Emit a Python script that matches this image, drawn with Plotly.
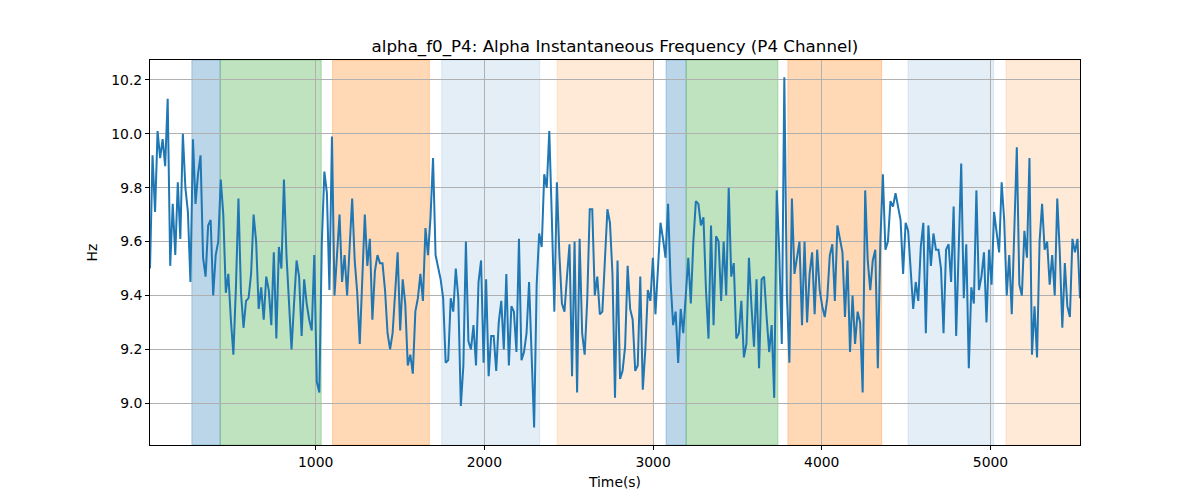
import numpy as np
import plotly.graph_objects as go

# Sampling of the time axis (seconds)
t_start = 18.0
t_step = 14.98

# Alpha instantaneous frequency values (Hz), read left to right
seg1 = [9.50, 9.92, 9.71, 10.01, 9.91, 9.98, 9.88, 10.13, 9.51, 9.74, 9.55, 9.82, 9.61, 10.00, 9.80, 9.71,
        9.45, 9.98, 9.74, 9.85, 9.92, 9.54, 9.47, 9.66, 9.68, 9.40, 9.55, 9.60, 9.83, 9.70, 9.41, 9.48,
        9.31, 9.18, 9.43, 9.76, 9.41, 9.28, 9.38, 9.39, 9.48, 9.70, 9.60, 9.35, 9.43, 9.31]
seg2 = [9.47, 9.42, 9.29, 9.56, 9.24, 9.58, 9.50, 9.83, 9.55, 9.37, 9.20, 9.37, 9.53, 9.47, 9.25, 9.46,
        9.37, 9.31, 9.27, 9.55, 9.08, 9.04, 9.60, 9.86, 9.78, 9.42, 9.99, 9.40, 9.57, 9.70, 9.45, 9.55,
        9.40, 9.58, 9.76, 9.53, 9.41, 9.22, 9.45, 9.70, 9.51, 9.61, 9.31, 9.49, 9.55]
seg3 = [9.52, 9.52, 9.42, 9.26, 9.20, 9.26, 9.43, 9.56, 9.27, 9.46, 9.37, 9.14, 9.18, 9.11, 9.34, 9.39,
        9.48, 9.38, 9.65, 9.55, 9.69, 9.91, 9.55, 9.50, 9.46, 9.39, 9.15, 9.16, 9.39, 9.34, 9.50, 9.39,
        8.99, 9.14, 9.60, 9.23, 9.20, 9.29, 9.14, 9.45, 9.53, 9.15, 9.46, 9.10, 9.25, 9.25]
seg4 = [9.12, 9.30, 9.38, 9.20, 9.48, 9.14, 9.36, 9.34, 9.19, 9.61, 9.16, 9.19, 9.26, 9.45, 9.15, 8.91,
        9.44, 9.63, 9.58, 9.85, 9.80, 10.01, 9.69, 9.34, 9.82, 9.55, 9.37, 9.34, 9.47, 9.59, 9.10, 9.60,
        9.04, 9.61, 9.26, 9.18, 9.38, 9.72, 9.72, 9.40, 9.47, 9.33, 9.34, 9.52, 9.72]
seg5 = [9.67, 9.48, 9.02, 9.53, 9.09, 9.12, 9.21, 9.51, 9.35, 9.31, 9.12, 9.14, 9.47, 9.05, 9.20, 9.42,
        9.38, 9.54, 9.33, 9.51, 9.67, 9.61, 9.54, 9.74, 9.45, 9.29, 9.34, 9.15, 9.35, 9.26, 9.42, 9.54,
        9.37, 9.60, 9.75, 9.74, 9.66, 9.69, 9.42, 9.24, 9.66, 9.29, 9.62, 9.60, 9.38, 9.60]
seg6 = [9.40, 9.80, 9.47, 9.52, 9.24, 9.26, 9.38, 9.17, 9.22, 9.54, 9.36, 9.21, 9.46, 9.13, 9.46, 9.47,
        9.32, 9.19, 9.29, 9.02, 9.79, 9.56, 9.22, 10.21, 9.41, 9.15, 9.76, 9.48, 9.54, 9.60, 9.29, 9.60,
        9.30, 9.48, 9.56, 9.33, 9.57, 9.42, 9.36, 9.32, 9.39, 9.55, 9.59, 9.38, 9.66]
seg7 = [9.61, 9.56, 9.32, 9.53, 9.19, 9.40, 9.22, 9.34, 9.30, 9.04, 9.79, 9.53, 9.42, 9.53, 9.57, 9.13,
        9.60, 9.85, 9.57, 9.60, 9.75, 9.73, 9.78, 9.73, 9.68, 9.48, 9.67, 9.64, 9.50, 9.35, 9.45, 9.38,
        9.58, 9.67, 9.26, 9.66, 9.51, 9.63, 9.57, 9.57, 9.50, 9.26, 9.57, 9.59, 9.45, 9.73]
seg8 = [9.25, 9.60, 9.89, 9.39, 9.59, 9.13, 9.43, 9.37, 9.79, 9.42, 9.47, 9.56, 9.30, 9.57, 9.44, 9.71,
        9.64, 9.56, 9.82, 9.68, 9.40, 9.55, 9.33, 9.64, 9.95, 9.44, 9.40, 9.64, 9.54, 9.91, 9.18, 9.36,
        9.17, 9.60, 9.74, 9.57, 9.60, 9.44, 9.55, 9.40, 9.76, 9.56, 9.28, 9.52, 9.36, 9.32, 9.61, 9.56,
        9.61, 9.39]

freq = seg1 + seg2 + seg3 + seg4 + seg5 + seg6 + seg7 + seg8
time = t_start + t_step * np.arange(len(freq))

# Shaded intervals: (start, end, kind)
span_starts = [266, 434, 1100, 1747, 2431, 3077, 3196, 3799, 4511, 5092]
span_ends = [434, 1033, 1674, 2328, 3002, 3196, 3740, 4355, 5019, 5540]
span_kinds = ["blue", "green", "orange", "lightblue", "lightorange",
              "blue", "green", "orange", "lightblue", "lightorange"]

span_colors = {
    "blue": "rgba(31,119,180,0.3)",
    "green": "rgba(44,160,44,0.3)",
    "orange": "rgba(255,127,14,0.3)",
    "lightblue": "rgba(31,119,180,0.12)",
    "lightorange": "rgba(255,127,14,0.16)",
}

y_ticks = [9.0, 9.2, 9.4, 9.6, 9.8, 10.0, 10.2]
x_ticks = [1000, 2000, 3000, 4000, 5000]

fig = go.Figure()
fig.add_trace(go.Scatter(x=time, y=freq, mode="lines",
                         line=dict(color="#1f77b4", width=2), showlegend=False))

for s, e, k in zip(span_starts, span_ends, span_kinds):
    fig.add_vrect(x0=s, x1=e, fillcolor=span_colors[k], line=dict(color=span_colors[k], width=1),
                  layer="below")

font_family = "DejaVu Sans, Arial, sans-serif"
fig.update_layout(
    width=1200, height=500,
    margin=dict(l=142, r=128, t=52, b=63),
    paper_bgcolor="white", plot_bgcolor="white",
    font=dict(family=font_family, size=13.9, color="black"),
    title=dict(text="alpha_f0_P4: Alpha Instantaneous Frequency (P4 Channel)",
               x=0.5, xref="paper", xanchor="center",
               y=1 - 38 / 500, yref="container", yanchor="middle",
               font=dict(size=16.7, color="black")),
    showlegend=False,
)
fig.update_xaxes(range=[time[0], time[-1]], tickvals=x_ticks, ticktext=[str(v) for v in x_ticks],
                 showgrid=True, gridcolor="#b0b0b0", gridwidth=1,
                 showline=True, linecolor="black", linewidth=1, mirror=True,
                 ticks="outside", ticklen=4, tickwidth=1, tickcolor="black",
                 zeroline=False,
                 title=dict(text="Time(s)", standoff=8, font=dict(size=13.9)))
fig.update_yaxes(range=[8.845, 10.274], tickvals=y_ticks, ticktext=[f"{v:.1f}" for v in y_ticks],
                 showgrid=True, gridcolor="#b0b0b0", gridwidth=1,
                 showline=True, linecolor="black", linewidth=1, mirror=True,
                 ticks="outside", ticklen=4, tickwidth=1, tickcolor="black",
                 zeroline=False,
                 title=dict(text="Hz", standoff=10, font=dict(size=13.9)))

fig.write_html("out.html")
